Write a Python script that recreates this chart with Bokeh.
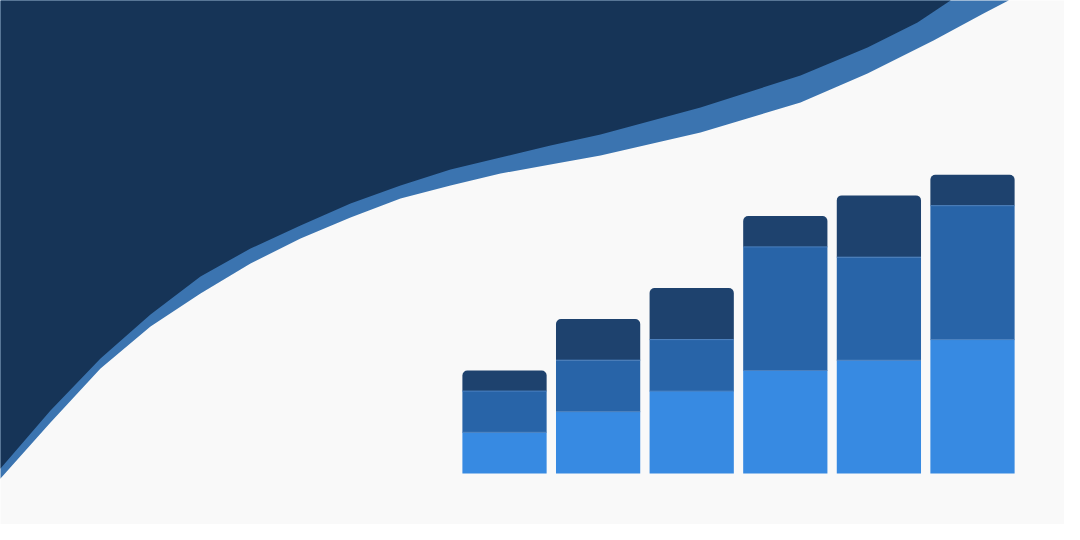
from bokeh.plotting import figure
from bokeh.models import Range1d
from bokeh.embed import file_html
from bokeh.resources import INLINE
import numpy as np

# stacked bars, bottom to top
bars = [0, 1, 2, 3, 4, 5]
light = [4, 6, 8, 10, 11, 13]
mid = [4, 5, 5, 12, 10, 13]
dark = [2, 4, 5, 3, 6, 3]

# the decorative wave top-left, read in pixels (y grows downwards)
wave_x = [0, 50, 100, 150, 200, 250, 300, 350, 400, 450, 500, 550, 600, 700, 800, 867, 917, 950]
wave_y = [468, 410, 358, 314, 276, 248, 225, 203, 185, 169, 157, 145, 134, 107, 75, 47, 22, 0]
band_x = [0, 50, 100, 150, 200, 250, 300, 350, 400, 450, 500, 550, 600, 700, 800, 867, 933, 983, 1008]
band_y = [478, 422, 368, 326, 293, 263, 238, 217, 198, 185, 173, 164, 155, 132, 102, 73, 40, 13, 0]

BG = "#f9f9f9"
NAVY = "#163457"
BAND = "#3b74b0"

p = figure(width=1064, height=524, output_backend="svg", toolbar_location=None,
           x_range=Range1d(-5.385, 5.983), y_range=Range1d(-4.951, 45.922),
           min_border=0, background_fill_color=BG, border_fill_color=BG)
p.extra_x_ranges = {"px": Range1d(0, 1064)}
p.extra_y_ranges = {"px": Range1d(524, 0)}
p.axis.visible = False
p.grid.visible = False
p.outline_line_color = None

# wave: lighter band first, navy on top
p.patch(band_x + [1008, -20, -20], band_y + [-20, -20, 478],
        fill_color=BAND, line_color=None, x_range_name="px", y_range_name="px")
p.patch(wave_x + [950, -20, -20], wave_y + [-20, -20, 468],
        fill_color=NAVY, line_color=None, x_range_name="px", y_range_name="px")

lo = np.array(light)
hi = lo + np.array(mid)
top = hi + np.array(dark)

w = 0.9
p.vbar(x=bars, bottom=0, top=lo, width=w, fill_color="#378ae2", line_color=None)
p.vbar(x=bars, bottom=lo, top=hi, width=w, fill_color="#2864a8", line_color=None)
p.vbar(x=bars, bottom=hi, top=top, width=w, fill_color="#1e426e", line_color=None,
       border_radius=(5, 5, 0, 0))

# thin seams between the segments
xs = np.array(bars)
for lvl in (lo, hi):
    p.segment(x0=xs - w / 2, x1=xs + w / 2, y0=lvl, y1=lvl,
              line_color="#4a80bf", line_width=1)

open("out.html", "w").write(file_html(p, INLINE))
